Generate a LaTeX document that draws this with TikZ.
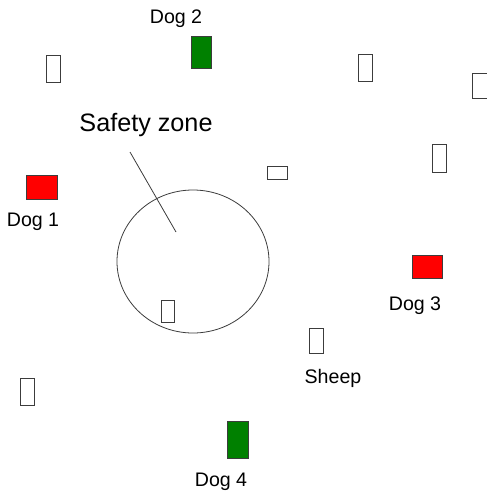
\documentclass[tikz,border=0pt]{standalone}
\usepackage{fontspec}
\setmainfont{Liberation Sans}
\usetikzlibrary{shapes.geometric}
\definecolor{dogred}{RGB}{255,0,0}
\definecolor{doggreen}{RGB}{0,128,0}
\definecolor{edge}{RGB}{60,60,60}
\begin{document}
\begin{tikzpicture}[x=1pt,y=-1pt,
  box/.style={draw=edge,line width=0.9pt,inner sep=0pt,rectangle},
  sheepbox/.style={box,fill=white},
  reddog/.style={box,fill=dogred},
  greendog/.style={box,fill=doggreen},
  lbl/.style={inner sep=0pt,anchor=base,font=\fontsize{19.6}{22}\selectfont},
  zonelbl/.style={inner sep=0pt,anchor=base,font=\fontsize{25.2}{28}\selectfont}]
\useasboundingbox (0,0) rectangle (487,496);
\clip (0,0) rectangle (487,496);
% safety zone
\node[draw=edge,line width=0.8pt,ellipse,minimum width=152pt,minimum height=143pt,inner sep=0pt] (zone) at (193,261.5) {};
\node[zonelbl] (zonetext) at (146,131.7) {Safety zone};
\coordinate (ptrstart) at (130,152);
\coordinate (ptrend) at (176,232);
\draw[edge,line width=0.8pt] (ptrstart) -- (ptrend);
% sheep
\node[sheepbox,minimum width=14pt,minimum height=27pt] (s1) at (53,68.5) {};
\node[sheepbox,minimum width=14pt,minimum height=27pt] (s2) at (365,67.5) {};
\node[sheepbox,minimum width=20pt,minimum height=25pt] (s3) at (482,85.5) {};
\node[sheepbox,minimum width=14pt,minimum height=28pt] (s4) at (439,158) {};
\node[sheepbox,minimum width=20pt,minimum height=13pt] (s5) at (277,172.5) {};
\node[sheepbox,minimum width=13pt,minimum height=22pt] (s6) at (167.5,311) {};
\node[sheepbox,minimum width=14pt,minimum height=27pt] (s7) at (27,391.5) {};
\node[sheepbox,minimum width=14pt,minimum height=25pt] (sheep) at (316,340.5) {};
\node[lbl] (sheeptext) at (333,383.5) {Sheep};
% dogs
\node[reddog,minimum width=31pt,minimum height=24pt] (dog1) at (41.5,187) {};
\node[lbl] (dog1text) at (33,226.5) {Dog 1};
\node[greendog,minimum width=20pt,minimum height=32pt] (dog2) at (201,52) {};
\node[lbl] (dog2text) at (176,23.3) {Dog 2};
\node[reddog,minimum width=30pt,minimum height=23pt] (dog3) at (427,266.5) {};
\node[lbl] (dog3text) at (415,310) {Dog 3};
\node[greendog,minimum width=21pt,minimum height=37pt] (dog4) at (237.5,439.5) {};
\node[lbl] (dog4text) at (221,486.5) {Dog 4};
\end{tikzpicture}
\end{document}
